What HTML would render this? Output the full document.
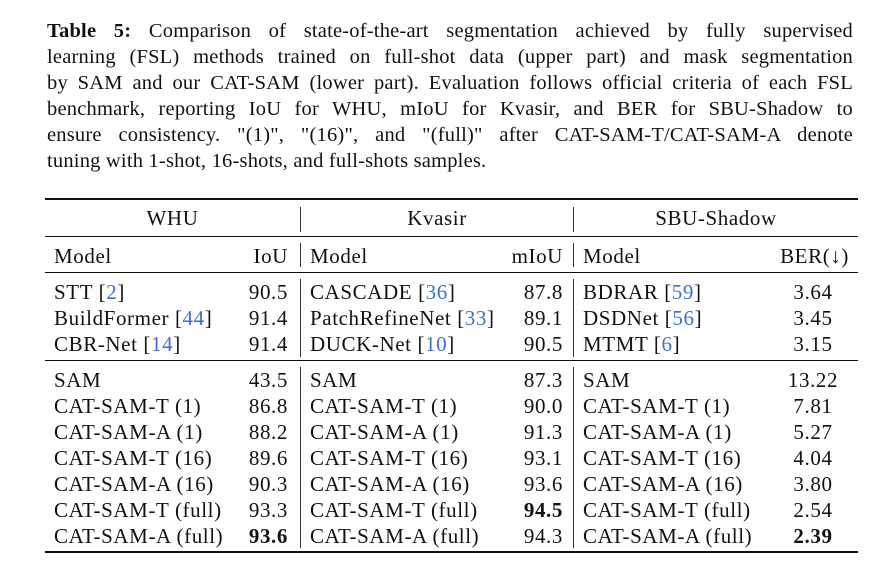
<!DOCTYPE html>
<html><head><meta charset="utf-8"><style>
body{margin:0;width:878px;height:587px;background:#fff;position:relative;overflow:hidden;font-family:"Liberation Serif",serif;color:#111;}
.cap{position:absolute;left:47px;top:18px;width:806px;font-size:20.5px;line-height:26px;letter-spacing:0.2px;}
.cap div{text-align:justify;text-align-last:justify;white-space:nowrap;}
.cap div.last{text-align-last:left;}
.t{position:absolute;font-size:21px;letter-spacing:0.6px;line-height:26px;white-space:nowrap;}
.r{text-align:right;}
.c{text-align:center;}
.hl{position:absolute;left:45px;width:813px;background:#111;}
.vl{position:absolute;width:1px;background:#333;}
.cite{color:#3b6fd4;}
b{font-weight:bold;}
</style></head><body>
<div class="cap">
<div><b>Table 5:</b> Comparison of state-of-the-art segmentation achieved by fully supervised</div>
<div>learning (FSL) methods trained on full-shot data (upper part) and mask segmentation</div>
<div>by SAM and our CAT-SAM (lower part). Evaluation follows official criteria of each FSL</div>
<div>benchmark, reporting IoU for WHU, mIoU for Kvasir, and BER for SBU-Shadow to</div>
<div>ensure consistency. "(1)", "(16)", and "(full)" after CAT-SAM-T/CAT-SAM-A denote</div>
<div class="last">tuning with 1-shot, 16-shots, and full-shots samples.</div>
</div>

<div class="hl" style="top:198px;height:2px"></div>
<div class="hl" style="top:236px;height:1px"></div>
<div class="hl" style="top:272px;height:1px"></div>
<div class="hl" style="top:360px;height:1px"></div>
<div class="hl" style="top:551px;height:2px"></div>

<div class="vl" style="left:300px;top:207px;height:25px"></div>
<div class="vl" style="left:573px;top:207px;height:25px"></div>
<div class="vl" style="left:300px;top:243px;height:24px"></div>
<div class="vl" style="left:573px;top:243px;height:24px"></div>
<div class="vl" style="left:300px;top:279px;height:78px"></div>
<div class="vl" style="left:573px;top:279px;height:78px"></div>
<div class="vl" style="left:300px;top:367px;height:181px"></div>
<div class="vl" style="left:573px;top:367px;height:181px"></div>

<div class="t c" style="left:45px;width:255px;top:205px">WHU</div>
<div class="t c" style="left:301px;width:272px;top:205px">Kvasir</div>
<div class="t c" style="left:574px;width:284px;top:205px">SBU-Shadow</div>

<div id="rows"></div>
<script>
const whuModels=["Model","STT [<span class=cite>2</span>]","BuildFormer [<span class=cite>44</span>]","CBR-Net [<span class=cite>14</span>]","SAM","CAT-SAM-T (1)","CAT-SAM-A (1)","CAT-SAM-T (16)","CAT-SAM-A (16)","CAT-SAM-T (full)","CAT-SAM-A (full)"];
const whuVals=["IoU","90.5","91.4","91.4","43.5","86.8","88.2","89.6","90.3","93.3","<b>93.6</b>"];
const kvModels=["Model","CASCADE [<span class=cite>36</span>]","PatchRefineNet [<span class=cite>33</span>]","DUCK-Net [<span class=cite>10</span>]","SAM","CAT-SAM-T (1)","CAT-SAM-A (1)","CAT-SAM-T (16)","CAT-SAM-A (16)","CAT-SAM-T (full)","CAT-SAM-A (full)"];
const kvVals=["mIoU","87.8","89.1","90.5","87.3","90.0","91.3","93.1","93.6","<b>94.5</b>","94.3"];
const sbModels=["Model","BDRAR [<span class=cite>59</span>]","DSDNet [<span class=cite>56</span>]","MTMT [<span class=cite>6</span>]","SAM","CAT-SAM-T (1)","CAT-SAM-A (1)","CAT-SAM-T (16)","CAT-SAM-A (16)","CAT-SAM-T (full)","CAT-SAM-A (full)"];
const sbVals=["BER(↓)","3.64","3.45","3.15","13.22","7.81","5.27","4.04","3.80","2.54","<b>2.39</b>"];
const tops=[243,279,305,331,367,393,419,445,471,497,523];
const root=document.getElementById('rows');
function cell(html,style,cls,name){
  const d=document.createElement('div');
  d.className='t '+cls;d.setAttribute('style',style);d.innerHTML=html;
  
  
  root.appendChild(d);
}
for(let i=0;i<tops.length;i++){
  const y='top:'+tops[i]+'px;';
  cell(whuModels[i],y+'left:54px','', 'whu-model-cell');
  cell(whuVals[i],y+'left:190px;width:98px','r','whu-value-cell');
  cell(kvModels[i],y+'left:310px','','kvasir-model-cell');
  cell(kvVals[i],y+'left:460px;width:103px','r','kvasir-value-cell');
  cell(sbModels[i],y+'left:583px','','sbu-model-cell');
  if(i==0) cell(sbVals[i],y+'left:730px;width:119px','r','sbu-value-cell');
  else cell(sbVals[i],y+'left:770px;width:86px','c','sbu-value-cell');
}
</script>
</body></html>
